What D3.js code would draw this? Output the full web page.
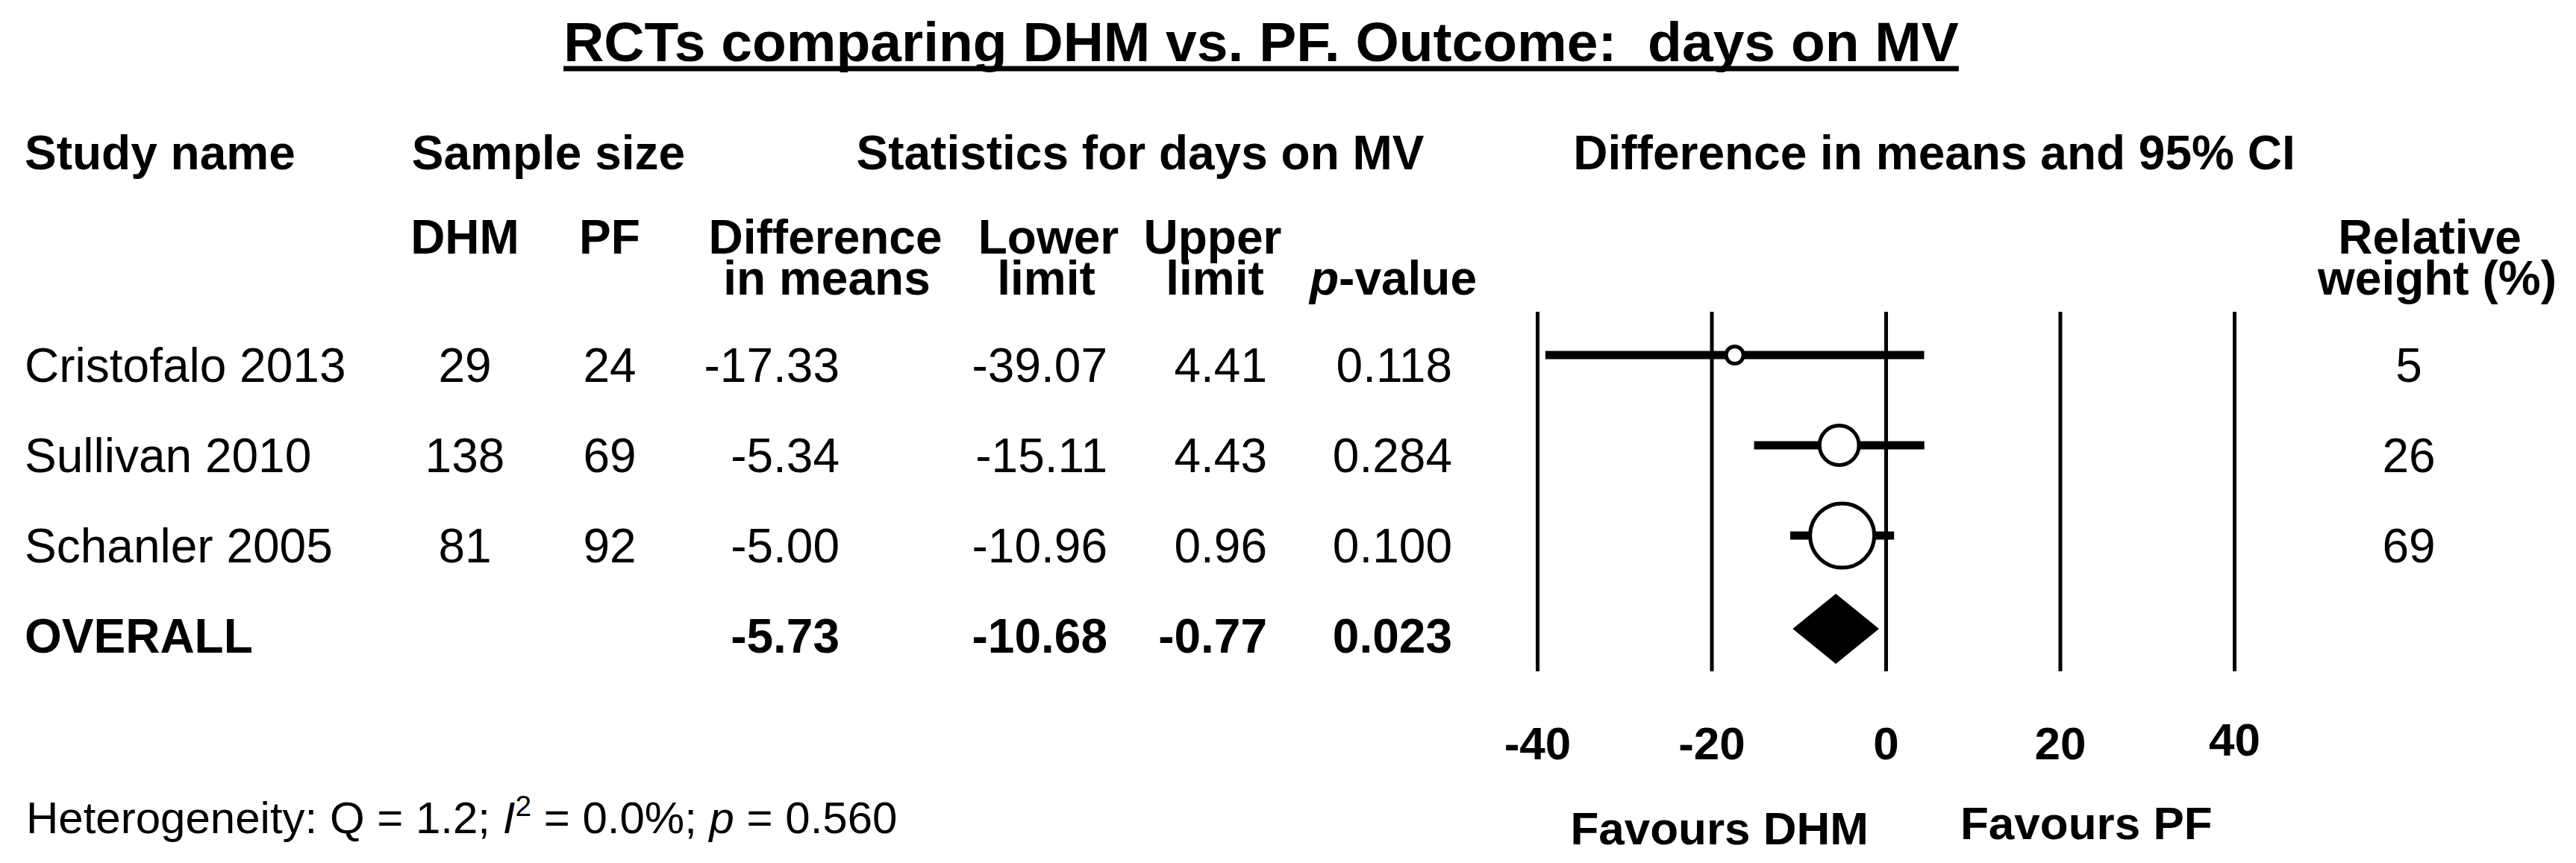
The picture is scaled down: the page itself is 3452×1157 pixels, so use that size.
<!DOCTYPE html>
<html>
<head>
<meta charset="utf-8">
<script src="https://cdn.jsdelivr.net/npm/d3@7"></script>
<style>
  body { margin: 0; background: #fff; }
  svg text { font-family: "Liberation Sans", Arial, sans-serif; fill: #000; white-space: pre; }
</style>
</head>
<body>
<script>
// study rows
const studies = ["Cristofalo 2013", "Sullivan 2010", "Schanler 2005"];
const nDHM = [29, 138, 81];
const nPF = [24, 69, 92];
const diffMeans = [-17.33, -5.34, -5.00];
const lowerLimit = [-39.07, -15.11, -10.96];
const upperLimit = [4.41, 4.43, 0.96];
const pValues = [0.118, 0.284, 0.100];
const relWeight = [5, 26, 69];

// pooled result
const overallLabel = "OVERALL";
const overallDiff = -5.73;
const overallLower = -10.68;
const overallUpper = -0.77;
const overallP = 0.023;

const axisTicks = [-40, -20, 0, 20, 40];

const W = 3452, H = 1157;
const svg = d3.select("body").append("svg")
  .attr("width", W)
  .attr("height", H);

// title, underlined
const title = svg.append("text")
  .attr("x", 1690).attr("y", 82)
  .attr("text-anchor", "middle")
  .attr("font-size", 75).attr("font-weight", "bold")
  .text("RCTs comparing DHM vs. PF. Outcome:  days on MV");
const tb = title.node().getBBox();
svg.append("line")
  .attr("x1", tb.x).attr("x2", tb.x + tb.width)
  .attr("y1", 92).attr("y2", 92)
  .attr("stroke", "#000").attr("stroke-width", 7);

// header helper
function hdr(x, y, txt, anchor = "middle") {
  return svg.append("text")
    .attr("x", x).attr("y", y)
    .attr("text-anchor", anchor)
    .attr("font-size", 64).attr("font-weight", "bold")
    .text(txt);
}
hdr(33, 227, "Study name", "start");
hdr(735, 227, "Sample size");
hdr(1528, 227, "Statistics for days on MV");
hdr(2592, 227, "Difference in means and 95% CI");
hdr(623, 340, "DHM");
hdr(817, 340, "PF");
hdr(1106, 340, "Difference");
hdr(1108, 395, "in means");
hdr(1405, 340, "Lower");
hdr(1402, 395, "limit");
hdr(1625, 340, "Upper");
hdr(1628, 395, "limit");
const pv = hdr(1867, 395, "");
pv.append("tspan").attr("font-style", "italic").text("p");
pv.append("tspan").text("-value");
hdr(3256, 340, "Relative");
hdr(3266, 395, "weight (%)");

// rows
const rows = [...studies, overallLabel];
const y = d3.scalePoint().domain(rows).range([512, 875]);
const x = d3.scaleLinear().domain([-40, 40]).range([2060, 2994]);
const r = d3.scaleSqrt().domain([0, d3.max(relWeight)]).range([0, 43]);

function cell(xp, yp, txt, anchor, bold) {
  svg.append("text")
    .attr("x", xp).attr("y", yp)
    .attr("text-anchor", anchor)
    .attr("font-size", 64)
    .attr("font-weight", bold ? "bold" : "normal")
    .text(txt);
}

studies.forEach((s, i) => {
  const yy = y(s);
  cell(33, yy, s, "start", false);
  cell(623, yy, nDHM[i], "middle", false);
  cell(817, yy, nPF[i], "middle", false);
  cell(1125, yy, diffMeans[i].toFixed(2), "end", false);
  cell(1484, yy, lowerLimit[i].toFixed(2), "end", false);
  cell(1698, yy, upperLimit[i].toFixed(2), "end", false);
  cell(1946, yy, pValues[i].toFixed(3), "end", false);
  cell(3228, yy, relWeight[i], "middle", false);
});
const yo = y(overallLabel);
cell(33, yo, overallLabel, "start", true);
cell(1125, yo, overallDiff.toFixed(2), "end", true);
cell(1484, yo, overallLower.toFixed(2), "end", true);
cell(1698, yo, overallUpper.toFixed(2), "end", true);
cell(1946, yo, overallP.toFixed(3), "end", true);

// axis: vertical lines at each tick, labels below
const axisY = 900;
const axis = svg.append("g")
  .attr("transform", `translate(0,${axisY})`)
  .call(d3.axisBottom(x).tickValues(axisTicks).tickSizeInner(-482).tickSizeOuter(0).tickPadding(74).tickFormat(d3.format("d")));
axis.select(".domain").remove();
axis.selectAll(".tick line").attr("stroke", "#000").attr("stroke-width", 5);
axis.selectAll(".tick text")
  .attr("font-size", 62).attr("font-weight", "bold")
  .attr("font-family", "Liberation Sans, Arial, sans-serif")
  .attr("fill", "#000")
  .attr("y", d => d === 40 ? 69 : 74)
  .text(d => d < 0 ? "-" + Math.abs(d) : d);

// confidence intervals and point estimates
const marks = svg.append("g");
studies.forEach((s, i) => {
  const cy = y(s) - 36;
  marks.append("line")
    .attr("x1", x(lowerLimit[i])).attr("x2", x(upperLimit[i]))
    .attr("y1", cy).attr("y2", cy)
    .attr("stroke", "#000").attr("stroke-width", 11);
  marks.append("circle")
    .attr("cx", x(diffMeans[i])).attr("cy", cy)
    .attr("r", r(relWeight[i]))
    .attr("fill", "#fff").attr("stroke", "#000").attr("stroke-width", 5);
});

// pooled diamond
const dy = yo - 32, dh = 47;
marks.append("polygon")
  .attr("points", [
    [x(overallLower), dy], [x(overallDiff), dy - dh],
    [x(overallUpper), dy], [x(overallDiff), dy + dh]
  ].map(p => p.join(",")).join(" "))
  .attr("fill", "#000");

// favours labels
svg.append("text")
  .attr("x", x(0) - 23).attr("y", 1132)
  .attr("text-anchor", "end")
  .attr("font-size", 62).attr("font-weight", "bold")
  .text("Favours DHM");
svg.append("text")
  .attr("x", x(0) + 100).attr("y", 1125)
  .attr("text-anchor", "start")
  .attr("font-size", 62).attr("font-weight", "bold")
  .text("Favours PF");

// heterogeneity note
const het = svg.append("text")
  .attr("x", 35).attr("y", 1117)
  .attr("font-size", 60);
het.append("tspan").text("Heterogeneity: Q = 1.2; ");
het.append("tspan").attr("font-style", "italic").text("I");
het.append("tspan").attr("font-size", 39).attr("dy", -23).text("2");
het.append("tspan").attr("dy", 23).text(" = 0.0%; ");
het.append("tspan").attr("font-style", "italic").text("p");
het.append("tspan").text(" = 0.560");
</script>
</body>
</html>
